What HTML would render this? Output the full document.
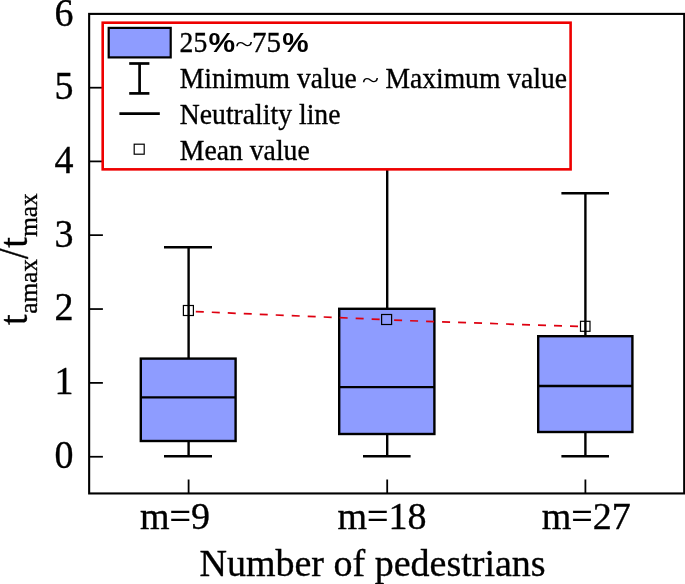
<!DOCTYPE html>
<html>
<head>
<meta charset="utf-8">
<title>Box plot</title>
<style>
html,body{margin:0;padding:0;background:#fff;}
body{width:685px;height:584px;overflow:hidden;position:relative;}
svg{position:absolute;left:0;top:0;display:block;will-change:transform;}
text{font-family:"Liberation Serif",serif;fill:#000;stroke:#000;stroke-width:0.35px;}
.big{font-size:38px;}
.leg{font-size:29px;}
.pc{font-family:"Liberation Sans",sans-serif;font-weight:bold;font-size:27px;stroke:none;}
.tl{stroke:none;}
</style>
</head>
<body>
<svg width="685" height="584" viewBox="0 0 685 584">
<rect x="0" y="0" width="685" height="584" fill="#ffffff"/>

<!-- axis frame -->
<rect x="89.15" y="13.9" width="595.05" height="479.55" fill="none" stroke="#000" stroke-width="2.1"/>

<!-- y ticks -->
<g stroke="#000" stroke-width="1.75">
<line x1="89.15" y1="87.7" x2="102.9" y2="87.7"/>
<line x1="89.15" y1="161.4" x2="102.9" y2="161.4"/>
<line x1="89.15" y1="235.15" x2="102.9" y2="235.15"/>
<line x1="89.15" y1="309.05" x2="102.9" y2="309.05"/>
<line x1="89.15" y1="382.9" x2="102.9" y2="382.9"/>
<line x1="89.15" y1="456.75" x2="102.9" y2="456.75"/>
</g>
<!-- x ticks -->
<g stroke="#000" stroke-width="1.8">
<line x1="188.6" y1="479.5" x2="188.6" y2="493.45"/>
<line x1="387.2" y1="479.5" x2="387.2" y2="493.45"/>
<line x1="585.4" y1="479.5" x2="585.4" y2="493.45"/>
</g>

<!-- y tick labels -->
<g class="big" text-anchor="middle">
<text transform="translate(64,26.0) scale(1,1.045)">6</text>
<text transform="translate(64,99.4) scale(1,1.045)">5</text>
<text transform="translate(64,173.2) scale(1,1.045)">4</text>
<text transform="translate(64,246.85) scale(1,1.045)">3</text>
<text transform="translate(64,320.2) scale(1,1.045)">2</text>
<text transform="translate(64,394.0) scale(1,1.045)">1</text>
<text transform="translate(64,467.95) scale(1,1.045)">0</text>
</g>

<!-- x tick labels -->
<g class="big">
<text x="140" y="529.4">m=9</text>
<text x="337.5" y="529.4">m=18</text>
<text x="541.7" y="529.4">m=27</text>
<text x="199.5" y="576">Number of pedestrians</text>
</g>

<!-- y axis title -->
<g transform="translate(27,325) rotate(-90)">
<text class="big" transform="translate(0,0) scale(1,1.06)">t</text>
<text font-size="25.3" x="11.2" y="10.3">amax</text>
<text class="big" transform="translate(66.1,0.5) scale(1,1.1)">/</text>
<text class="big" transform="translate(77.3,0) scale(1,1.06)">t</text>
<text font-size="25.3" x="88.2" y="10.3">max</text>
</g>

<!-- whiskers -->
<g stroke="#000" stroke-width="2.4" fill="none">
<line x1="188.6" y1="247.2" x2="188.6" y2="456.2"/>
<line x1="164" y1="247.2" x2="212" y2="247.2"/>
<line x1="164" y1="456.2" x2="212" y2="456.2"/>

<line x1="387.2" y1="100" x2="387.2" y2="456.2"/>
<line x1="363" y1="456.2" x2="410.6" y2="456.2"/>

<line x1="585.4" y1="193.2" x2="585.4" y2="456.2"/>
<line x1="561.4" y1="193.2" x2="609" y2="193.2"/>
<line x1="561.4" y1="456.2" x2="609" y2="456.2"/>
</g>

<!-- boxes -->
<g stroke="#000" stroke-width="2.4" fill="#8e9cff">
<rect x="140.8" y="358.6" width="94.8" height="82.4"/>
<rect x="339.2" y="308.8" width="95.2" height="125.2"/>
<rect x="538.2" y="336.2" width="94.2" height="95.8"/>
</g>
<g stroke="#000" stroke-width="2.4">
<line x1="140.8" y1="397.4" x2="235.6" y2="397.4"/>
<line x1="339.2" y1="387.1" x2="434.4" y2="387.1"/>
<line x1="538.2" y1="386" x2="632.4" y2="386"/>
</g>

<!-- mean line -->
<g stroke="#de0010" stroke-width="1.7" fill="none" stroke-dasharray="8 8">
<line x1="195.8" y1="311.6" x2="380.5" y2="319.4"/>
<line x1="394.1" y1="320.2" x2="579.4" y2="326.5"/>
</g>
<!-- mean markers -->
<g stroke="#000" stroke-width="1.2" fill="none">
<rect x="183.4" y="305.5" width="10" height="10"/>
<rect x="381.6" y="314.5" width="10" height="10"/>
<rect x="580.5" y="321.3" width="9.5" height="10"/>
</g>

<!-- legend -->
<rect x="102.7" y="22.7" width="467.9" height="146.65" fill="#fff" stroke="#ee0000" stroke-width="2.6"/>
<rect x="108.7" y="27.9" width="62" height="29.5" fill="#8e9cff" stroke="#000" stroke-width="2.2"/>
<g stroke="#000" stroke-width="2.7">
<line x1="139.6" y1="63.5" x2="139.6" y2="93.4"/>
<line x1="129.2" y1="63.5" x2="149.4" y2="63.5"/>
<line x1="129.2" y1="93.4" x2="149.4" y2="93.4"/>
<line x1="119.4" y1="113.7" x2="159.8" y2="113.7"/>
</g>
<rect x="134.2" y="144.2" width="10" height="10" fill="none" stroke="#000" stroke-width="1.2"/>
<g class="leg">
<text transform="translate(179.6,51.6) scale(0.955,1)">25</text>
<text class="pc" transform="translate(208.6,51.6) scale(1.11,1)">%</text>
<text class="tl" transform="translate(235.3,52.2) scale(1.13,0.9)">~</text>
<text transform="translate(251.9,51.6) scale(1.0,1)">75</text>
<text class="pc" transform="translate(282.2,51.6) scale(1.10,1)">%</text>
<text transform="translate(179.8,87.8) scale(0.951,1)">Minimum value</text>
<text class="tl" transform="translate(362,88.3) scale(1.08,0.9)">~</text>
<text transform="translate(385.5,87.8) scale(0.951,1)">Maximum value</text>
<text transform="translate(179.8,123.6) scale(0.955,1)">Neutrality line</text>
<text transform="translate(179.8,159.6) scale(0.955,1)">Mean value</text>
</g>
</svg>
</body>
</html>
